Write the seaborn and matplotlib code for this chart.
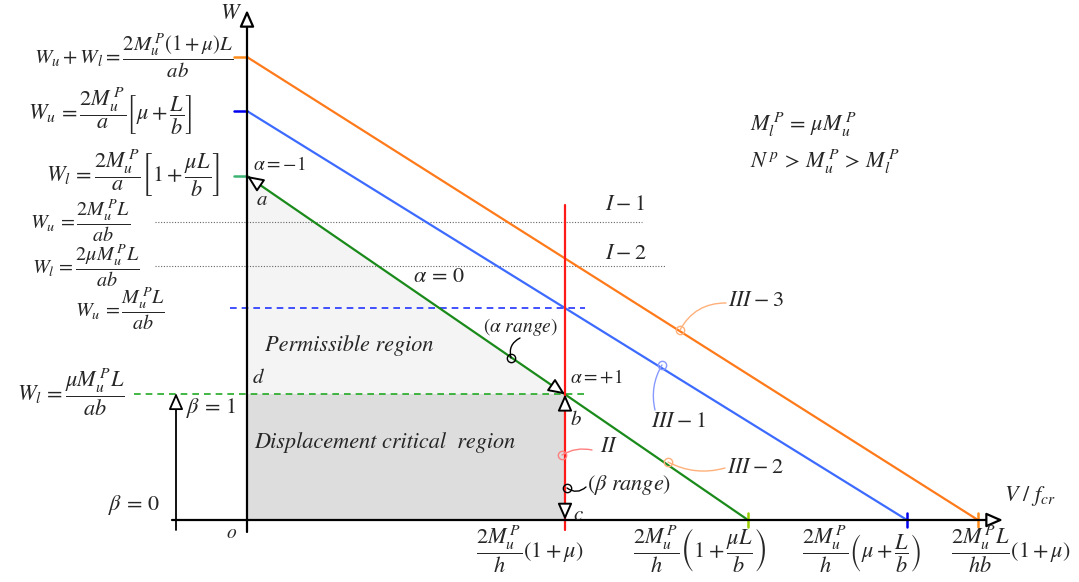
import numpy as np
import pandas as pd
import matplotlib.pyplot as plt
import seaborn as sns

# --- chart values (schematic units, origin o at the W / V axes crossing) ---
# collapse lines III-2 (green), III-1 (blue), III-3 (orange)
line_names = ["III-2", "III-1", "III-3"]
w_intercepts = [3.44, 4.09, 4.63]      # where each line meets the W axis
v_intercepts = [5.01, 6.60, 7.31]      # where each line meets the V/f_cr axis

# shear line II (red, vertical) on the V/f_cr axis
v_shear = 3.18

# dotted levels I-1 and I-2
level_names = ["I-1", "I-2"]
level_w = [2.98, 2.54]

line_colors = {"III-2": "#1a8a1a", "III-1": "#3d6bff", "III-3": "#ff7a1a"}
left_tick_colors = {"III-2": "#3cb371", "III-1": "#0000ee", "III-3": "#ff8c1a"}
bottom_tick_colors = {"III-2": "#9acd00", "III-1": "#0000ee", "III-3": "#ff8c1a"}
RED = "#ff1a1a"


def w_on_line(name, v):
    i = line_names.index(name)
    return w_intercepts[i] * (1.0 - v / v_intercepts[i])


sns.set_style("white")
plt.rcParams["font.family"] = ["STIXGeneral", "DejaVu Serif"]
plt.rcParams["mathtext.fontset"] = "stix"

fig = plt.figure(figsize=(10.79, 5.82), dpi=100)
ax = fig.add_axes([0, 0, 1, 1])
ax.set_xlim(-2.47, 8.32)
ax.set_ylim(-0.62, 5.20)
ax.axis("off")

w_b = w_on_line("III-2", v_shear)       # point b (alpha = +1)
w_blue = w_on_line("III-1", v_shear)

# shaded regions
ax.fill([0, 0, v_shear], [w_intercepts[0], w_b, w_b], color="#f4f4f4", lw=0, zorder=0)
ax.fill([0, v_shear, v_shear, 0], [0, 0, w_b, w_b], color="#dddddd", lw=0, zorder=0)

# reference levels
for w, x_end in zip(level_w, [3.95, 4.18]):
    ax.plot([-0.92, x_end], [w, w], ls=(0, (1, 1.5)), color="#666666", lw=0.8)
ax.plot([-0.17, v_shear + 0.2], [w_blue, w_blue], ls=(0, (4, 3)), color="#2233ff", lw=1.2)
ax.plot([-1.13, v_shear + 0.23], [w_b, w_b], ls=(0, (4, 3)), color="#22aa22", lw=1.2)

# collapse lines
rows = []
for name, w0, v0 in zip(line_names, w_intercepts, v_intercepts):
    rows.append({"line": name, "V": 0.0, "W": w0})
    rows.append({"line": name, "V": v0, "W": 0.0})
df = pd.DataFrame(rows)
sns.lineplot(data=df, x="V", y="W", hue="line", palette=line_colors, sort=False,
             estimator=None, legend=False, linewidth=1.6, ax=ax)

# shear line II
ax.plot([v_shear, v_shear], [-0.10, 3.15], color=RED, lw=1.6)

# end ticks of the collapse lines
for name, w0, v0 in zip(line_names, w_intercepts, v_intercepts):
    ax.plot([-0.13, 0], [w0, w0], color=left_tick_colors[name], lw=1.8)
    ax.plot([v0, v0], [-0.07, 0.07], color=bottom_tick_colors[name], lw=1.8)

# axes with open arrow heads
head = dict(arrowstyle="-|>,head_length=0.5,head_width=0.22", fc="white", ec="black",
            lw=1.6, shrinkA=0, shrinkB=0, mutation_scale=20)
ax.annotate("", xy=(0, 5.10), xytext=(0, -0.12), arrowprops=head)
ax.annotate("", xy=(7.56, 0), xytext=(-0.75, 0), arrowprops=head)
ax.annotate("", xy=(-0.71, 1.27), xytext=(-0.71, -0.10), arrowprops=dict(head, lw=1.3))

# alpha range heads along III-2, beta range heads along II
d = np.array([v_intercepts[0], -w_intercepts[0]])
d = d / np.hypot(*d) * 0.15
tip_a = np.array([0.0, w_intercepts[0]])
tip_b = np.array([v_shear, w_b])
for tip, tail in [(tip_a, tip_a + d), (tip_b, tip_b - d),
                  (tip_b, tip_b - [0, 0.15]), (np.array([v_shear, 0.0]), np.array([v_shear, 0.15]))]:
    ax.annotate("", xy=tuple(tip), xytext=tuple(tail), arrowprops=dict(head, lw=1.4))

# left W labels
fs = 16
left_labels = [
    (r"$W_u+W_l=\dfrac{2M_u^{\,P}(1+\mu)L}{ab}$", -0.14, 4.64, 15),
    (r"$W_u\,=\dfrac{2M_u^{\,P}}{a}\left[\mu+\dfrac{L}{b}\right]$", -0.55, 4.09, fs),
    (r"$W_l\,=\dfrac{2M_u^{\,P}}{a}\left[1+\dfrac{\mu L}{b}\right]$", -0.27, 3.47, fs),
    (r"$W_u\,=\dfrac{2M_u^{\,P}L}{ab}$", -1.17, 2.99, 14.5),
    (r"$W_l\,=\dfrac{2\mu M_u^{\,P}L}{ab}$", -1.07, 2.54, 14.5),
    (r"$W_u\,=\dfrac{M_u^{\,P}L}{ab}$", -0.82, 2.11, 14.5),
    (r"$W_l\,=\dfrac{\mu M_u^{\,P}L}{ab}$", -1.22, 1.28, fs),
]
for txt, x, y, size in left_labels:
    ax.text(x, y, txt, ha="right", va="center", fontsize=size)

# bottom V/f_cr labels
bottom_labels = [
    (r"$\dfrac{2M_u^{\,P}}{h}(1+\mu)$", 2.83),
    (r"$\dfrac{2M_u^{\,P}}{h}\left(1+\dfrac{\mu L}{b}\right)$", 4.53),
    (r"$\dfrac{2M_u^{\,P}}{h}\left(\mu+\dfrac{L}{b}\right)$", 6.15),
    (r"$\dfrac{2M_u^{\,P}L}{hb}(1+\mu)$", 7.64),
]
for txt, x in bottom_labels:
    ax.text(x, -0.29, txt, ha="center", va="center", fontsize=fs)

ax.text(-0.16, 5.06, r"$W$", ha="center", va="center", fontsize=fs)
ax.text(7.83, 0.24, r"$V\ /\ f_{cr}$", ha="center", va="center", fontsize=fs)
ax.text(5.03, 3.95, r"$M_l^{\,P}\,=\,\mu M_u^{\,P}$", ha="left", va="center", fontsize=16)
ax.text(5.03, 3.58, r"$N^{\,p}\,>\,M_u^{\,P}\,>\,M_l^{\,P}$", ha="left", va="center", fontsize=16)

# point labels
for txt, x, y, ha, size in [
    (r"$\alpha=-1$", 0.06, 3.55, "left", 14), (r"$a$", 0.15, 3.20, "center", 15),
    (r"$\alpha\,=\,0$", 1.66, 2.43, "left", 16), (r"$\alpha=+1$", 3.23, 1.42, "left", 14),
    (r"$b$", 3.29, 1.00, "center", 15), (r"$d$", 0.11, 1.42, "center", 15),
    (r"$c$", 3.31, 0.05, "center", 15), (r"$o$", -0.15, -0.13, "center", 14),
    (r"$\beta\,=\,1$", -0.61, 1.12, "left", 16), (r"$\beta\,=\,0$", -1.39, 0.15, "left", 16),
    (r"$I-1$", 3.58, 3.15, "left", 16), (r"$I-2$", 3.58, 2.66, "left", 16),
    (r"$III-3$", 4.81, 2.19, "left", 16), (r"$III-1$", 4.04, 0.98, "left", 16),
    (r"$II$", 3.53, 0.73, "left", 16), (r"$III-2$", 4.80, 0.52, "left", 16),
]:
    ax.text(x, y, txt, ha=ha, va="center", fontsize=size)

ax.text(2.36, 1.93, r"$(\alpha\ range)$", ha="left", va="center", fontsize=14)
ax.text(3.40, 0.35, r"$(\beta\ range)$", ha="left", va="center", fontsize=16)
ax.text(0.18, 1.74, "Permissible region", style="italic", ha="left", va="center", fontsize=16)
ax.text(0.07, 0.77, "Displacement critical  region", style="italic", ha="left", va="center", fontsize=16)

# hand-drawn style leaders
for start, end, col, rad in [
    ((4.79, 2.17), (4.33, 1.90), "#ffb07a", 0.3),
    ((4.08, 1.10), (4.15, 1.55), "#8899ff", -0.2),
    ((3.45, 0.70), (3.15, 0.65), "#ff8080", 0.2),
    ((4.78, 0.52), (4.21, 0.58), "#ffb07a", -0.2),
    ((2.73, 1.82), (2.64, 1.62), "black", 0.4),
    ((3.39, 0.33), (3.20, 0.32), "black", -0.4),
]:
    ax.annotate("", xy=end, xytext=start,
                arrowprops=dict(arrowstyle="-", color=col, lw=1.0, shrinkA=0, shrinkB=0,
                                connectionstyle=f"arc3,rad={rad}"))
    ax.plot(*end, marker="o", ms=6, mfc="none", mec=col, mew=1.0)

fig.savefig("out.png", dpi=100)
